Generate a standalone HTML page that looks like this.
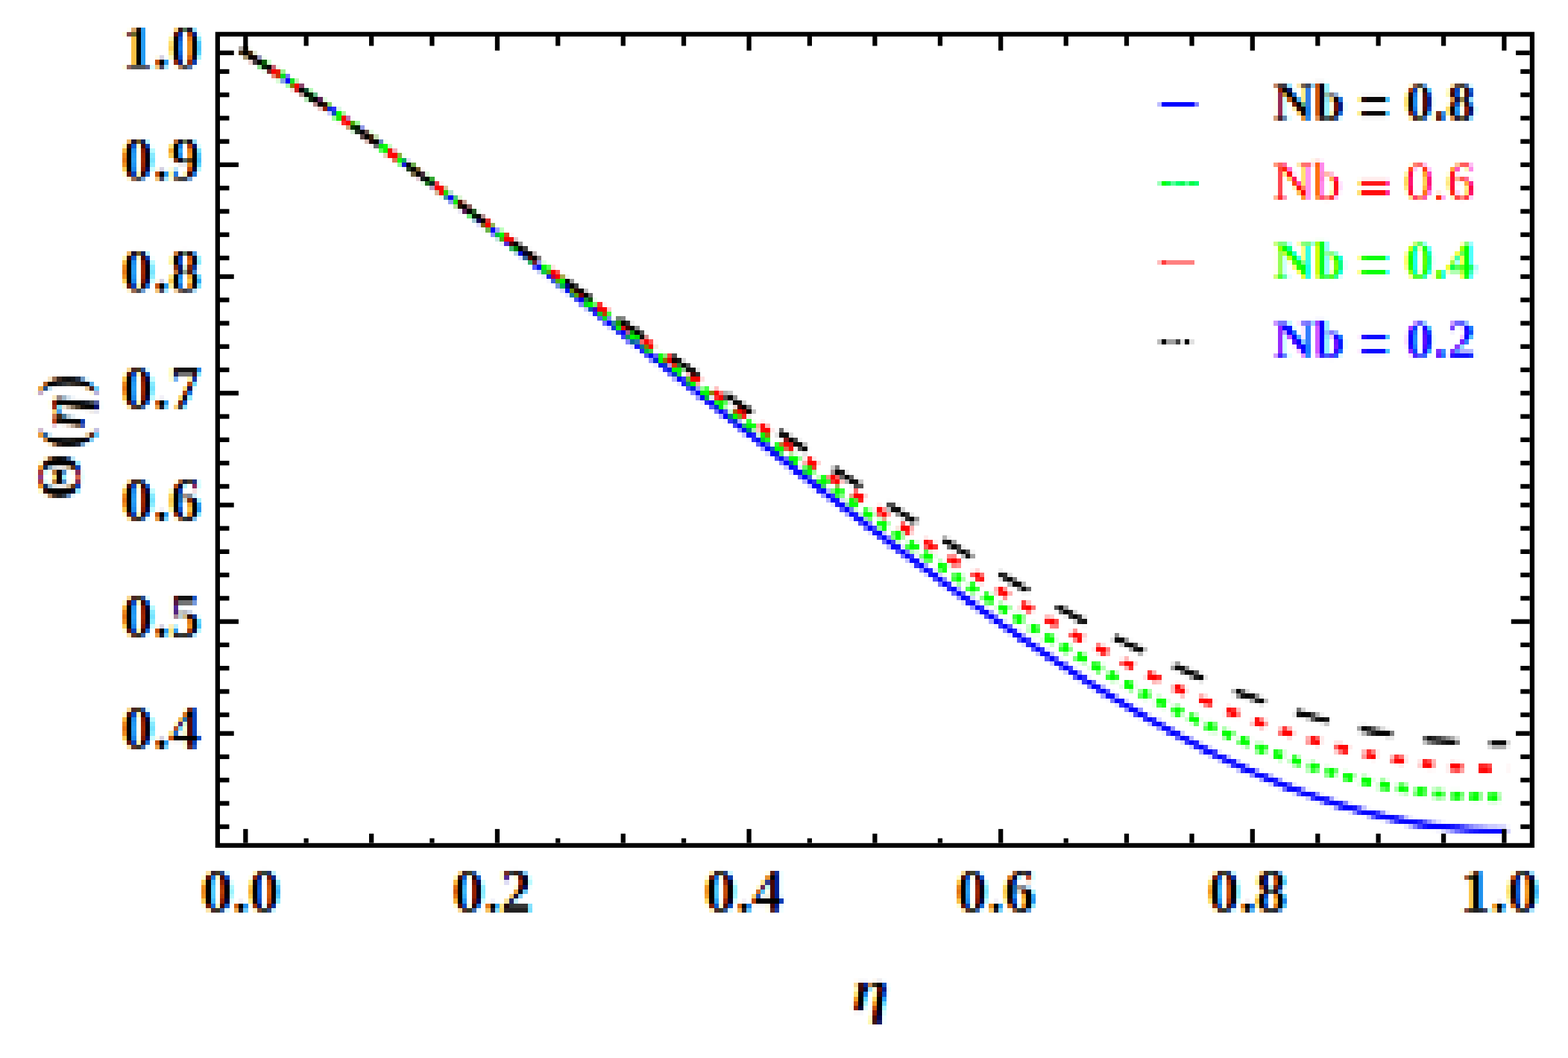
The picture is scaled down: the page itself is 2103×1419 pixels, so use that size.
<!DOCTYPE html>
<html lang="en"><head><meta charset="utf-8"><title>Temperature profile for Nb</title>
<style>html,body{margin:0;padding:0;background:#fff;width:2103px;height:1419px}svg{display:block}text{font-family:"Liberation Serif","DejaVu Serif",serif;font-weight:bold}</style></head><body>
<svg width="2103" height="1419" viewBox="0 0 2103 1419">
<defs>
<filter id="ct" filterUnits="userSpaceOnUse" x="-50" y="-50" width="2203" height="1519" color-interpolation-filters="sRGB">
<feFlood flood-color="#fff" result="w"/>
<feMerge result="s"><feMergeNode in="w"/><feMergeNode in="SourceGraphic"/></feMerge>
<feOffset in="s" dx="2.08" dy="0" result="sr"/>
<feOffset in="s" dx="-2.08" dy="0" result="sb"/>
<feColorMatrix in="sr" type="matrix" values="1 0 0 0 0  0 0 0 0 0  0 0 0 0 0  0 0 0 0 1" result="r"/>
<feColorMatrix in="s" type="matrix" values="0 0 0 0 0  0 1 0 0 0  0 0 0 0 0  0 0 0 0 1" result="g"/>
<feColorMatrix in="sb" type="matrix" values="0 0 0 0 0  0 0 0 0 0  0 0 1 0 0  0 0 0 0 1" result="b"/>
<feComposite in="r" in2="g" operator="arithmetic" k1="0" k2="1" k3="1" k4="0" result="rg"/>
<feComposite in="rg" in2="b" operator="arithmetic" k1="0" k2="1" k3="1" k4="0" result="rgb"/>
<feMerge><feMergeNode in="w"/><feMergeNode in="rgb"/></feMerge>
</filter>
<filter id="px" filterUnits="userSpaceOnUse" x="-50" y="-50" width="2203" height="1519" color-interpolation-filters="sRGB">
<feFlood flood-color="#fff" result="w"/>
<feMerge result="s"><feMergeNode in="w"/><feMergeNode in="SourceGraphic"/></feMerge>
<feGaussianBlur in="s" stdDeviation="1.8" result="bl"/>
<feFlood flood-color="#000" x="17" y="21" width="1" height="1" result="d00"/>
<feFlood flood-color="#000" x="23" y="21" width="1" height="1" result="d10"/>
<feFlood flood-color="#000" x="29" y="21" width="1" height="1" result="d20"/>
<feFlood flood-color="#000" x="36" y="21" width="1" height="1" result="d30"/>
<feFlood flood-color="#000" x="17" y="27" width="1" height="1" result="d01"/>
<feFlood flood-color="#000" x="23" y="27" width="1" height="1" result="d11"/>
<feFlood flood-color="#000" x="29" y="27" width="1" height="1" result="d21"/>
<feFlood flood-color="#000" x="36" y="27" width="1" height="1" result="d31"/>
<feFlood flood-color="#000" x="17" y="33" width="1" height="1" result="d02"/>
<feFlood flood-color="#000" x="23" y="33" width="1" height="1" result="d12"/>
<feFlood flood-color="#000" x="29" y="33" width="1" height="1" result="d22"/>
<feFlood flood-color="#000" x="36" y="33" width="1" height="1" result="d32"/>
<feFlood flood-color="#000" x="17" y="40" width="1" height="1" result="d03"/>
<feFlood flood-color="#000" x="23" y="40" width="1" height="1" result="d13"/>
<feFlood flood-color="#000" x="29" y="40" width="1" height="1" result="d23"/>
<feFlood flood-color="#000" x="36" y="40" width="1" height="1" result="d33"/>
<feMerge x="14" y="18" width="25" height="25" result="cell"><feMergeNode in="d00"/><feMergeNode in="d10"/><feMergeNode in="d20"/><feMergeNode in="d30"/><feMergeNode in="d01"/><feMergeNode in="d11"/><feMergeNode in="d21"/><feMergeNode in="d31"/><feMergeNode in="d02"/><feMergeNode in="d12"/><feMergeNode in="d22"/><feMergeNode in="d32"/><feMergeNode in="d03"/><feMergeNode in="d13"/><feMergeNode in="d23"/><feMergeNode in="d33"/></feMerge>
<feTile in="cell" result="grid"/>
<feComposite in="bl" in2="grid" operator="in" result="smp"/>
<feMorphology in="smp" operator="dilate" radius="3" result="dil"/>
<feFlood flood-color="rgb(176,0,0)" x="14" y="18" width="1" height="25" result="c0"/>
<feFlood flood-color="rgb(160,0,0)" x="15" y="18" width="1" height="25" result="c1"/>
<feFlood flood-color="rgb(144,0,0)" x="16" y="18" width="1" height="25" result="c2"/>
<feFlood flood-color="rgb(128,0,0)" x="17" y="18" width="1" height="25" result="c3"/>
<feFlood flood-color="rgb(112,0,0)" x="18" y="18" width="1" height="25" result="c4"/>
<feFlood flood-color="rgb(96,0,0)" x="19" y="18" width="1" height="25" result="c5"/>
<feFlood flood-color="rgb(176,0,0)" x="20" y="18" width="1" height="25" result="c6"/>
<feFlood flood-color="rgb(160,0,0)" x="21" y="18" width="1" height="25" result="c7"/>
<feFlood flood-color="rgb(144,0,0)" x="22" y="18" width="1" height="25" result="c8"/>
<feFlood flood-color="rgb(128,0,0)" x="23" y="18" width="1" height="25" result="c9"/>
<feFlood flood-color="rgb(112,0,0)" x="24" y="18" width="1" height="25" result="c10"/>
<feFlood flood-color="rgb(96,0,0)" x="25" y="18" width="1" height="25" result="c11"/>
<feFlood flood-color="rgb(176,0,0)" x="26" y="18" width="1" height="25" result="c12"/>
<feFlood flood-color="rgb(160,0,0)" x="27" y="18" width="1" height="25" result="c13"/>
<feFlood flood-color="rgb(144,0,0)" x="28" y="18" width="1" height="25" result="c14"/>
<feFlood flood-color="rgb(128,0,0)" x="29" y="18" width="1" height="25" result="c15"/>
<feFlood flood-color="rgb(112,0,0)" x="30" y="18" width="1" height="25" result="c16"/>
<feFlood flood-color="rgb(96,0,0)" x="31" y="18" width="1" height="25" result="c17"/>
<feFlood flood-color="rgb(80,0,0)" x="32" y="18" width="1" height="25" result="c18"/>
<feFlood flood-color="rgb(176,0,0)" x="33" y="18" width="1" height="25" result="c19"/>
<feFlood flood-color="rgb(160,0,0)" x="34" y="18" width="1" height="25" result="c20"/>
<feFlood flood-color="rgb(144,0,0)" x="35" y="18" width="1" height="25" result="c21"/>
<feFlood flood-color="rgb(128,0,0)" x="36" y="18" width="1" height="25" result="c22"/>
<feFlood flood-color="rgb(112,0,0)" x="37" y="18" width="1" height="25" result="c23"/>
<feFlood flood-color="rgb(96,0,0)" x="38" y="18" width="1" height="25" result="c24"/>
<feMerge x="14" y="18" width="25" height="25" result="cm"><feMergeNode in="c0"/><feMergeNode in="c1"/><feMergeNode in="c2"/><feMergeNode in="c3"/><feMergeNode in="c4"/><feMergeNode in="c5"/><feMergeNode in="c6"/><feMergeNode in="c7"/><feMergeNode in="c8"/><feMergeNode in="c9"/><feMergeNode in="c10"/><feMergeNode in="c11"/><feMergeNode in="c12"/><feMergeNode in="c13"/><feMergeNode in="c14"/><feMergeNode in="c15"/><feMergeNode in="c16"/><feMergeNode in="c17"/><feMergeNode in="c18"/><feMergeNode in="c19"/><feMergeNode in="c20"/><feMergeNode in="c21"/><feMergeNode in="c22"/><feMergeNode in="c23"/><feMergeNode in="c24"/></feMerge>
<feFlood flood-color="rgb(0,176,0)" x="14" y="18" width="25" height="1" result="r0"/>
<feFlood flood-color="rgb(0,160,0)" x="14" y="19" width="25" height="1" result="r1"/>
<feFlood flood-color="rgb(0,144,0)" x="14" y="20" width="25" height="1" result="r2"/>
<feFlood flood-color="rgb(0,128,0)" x="14" y="21" width="25" height="1" result="r3"/>
<feFlood flood-color="rgb(0,112,0)" x="14" y="22" width="25" height="1" result="r4"/>
<feFlood flood-color="rgb(0,96,0)" x="14" y="23" width="25" height="1" result="r5"/>
<feFlood flood-color="rgb(0,176,0)" x="14" y="24" width="25" height="1" result="r6"/>
<feFlood flood-color="rgb(0,160,0)" x="14" y="25" width="25" height="1" result="r7"/>
<feFlood flood-color="rgb(0,144,0)" x="14" y="26" width="25" height="1" result="r8"/>
<feFlood flood-color="rgb(0,128,0)" x="14" y="27" width="25" height="1" result="r9"/>
<feFlood flood-color="rgb(0,112,0)" x="14" y="28" width="25" height="1" result="r10"/>
<feFlood flood-color="rgb(0,96,0)" x="14" y="29" width="25" height="1" result="r11"/>
<feFlood flood-color="rgb(0,176,0)" x="14" y="30" width="25" height="1" result="r12"/>
<feFlood flood-color="rgb(0,160,0)" x="14" y="31" width="25" height="1" result="r13"/>
<feFlood flood-color="rgb(0,144,0)" x="14" y="32" width="25" height="1" result="r14"/>
<feFlood flood-color="rgb(0,128,0)" x="14" y="33" width="25" height="1" result="r15"/>
<feFlood flood-color="rgb(0,112,0)" x="14" y="34" width="25" height="1" result="r16"/>
<feFlood flood-color="rgb(0,96,0)" x="14" y="35" width="25" height="1" result="r17"/>
<feFlood flood-color="rgb(0,80,0)" x="14" y="36" width="25" height="1" result="r18"/>
<feFlood flood-color="rgb(0,176,0)" x="14" y="37" width="25" height="1" result="r19"/>
<feFlood flood-color="rgb(0,160,0)" x="14" y="38" width="25" height="1" result="r20"/>
<feFlood flood-color="rgb(0,144,0)" x="14" y="39" width="25" height="1" result="r21"/>
<feFlood flood-color="rgb(0,128,0)" x="14" y="40" width="25" height="1" result="r22"/>
<feFlood flood-color="rgb(0,112,0)" x="14" y="41" width="25" height="1" result="r23"/>
<feFlood flood-color="rgb(0,96,0)" x="14" y="42" width="25" height="1" result="r24"/>
<feMerge x="14" y="18" width="25" height="25" result="rm"><feMergeNode in="r0"/><feMergeNode in="r1"/><feMergeNode in="r2"/><feMergeNode in="r3"/><feMergeNode in="r4"/><feMergeNode in="r5"/><feMergeNode in="r6"/><feMergeNode in="r7"/><feMergeNode in="r8"/><feMergeNode in="r9"/><feMergeNode in="r10"/><feMergeNode in="r11"/><feMergeNode in="r12"/><feMergeNode in="r13"/><feMergeNode in="r14"/><feMergeNode in="r15"/><feMergeNode in="r16"/><feMergeNode in="r17"/><feMergeNode in="r18"/><feMergeNode in="r19"/><feMergeNode in="r20"/><feMergeNode in="r21"/><feMergeNode in="r22"/><feMergeNode in="r23"/><feMergeNode in="r24"/></feMerge>
<feComposite in="cm" in2="rm" operator="arithmetic" k1="0" k2="1" k3="1" k4="0" x="14" y="18" width="25" height="25" result="m1"/>
<feTile in="m1" result="map"/>
<feDisplacementMap in="dil" in2="map" scale="15.9375" xChannelSelector="R" yChannelSelector="G" result="dsp"/>
<feMerge><feMergeNode in="w"/><feMergeNode in="dsp"/></feMerge>
</filter>
</defs>
<rect width="2103" height="1419" fill="#fff"/>
<g filter="url(#px)">
<g filter="url(#ct)">
<text transform="translate(163.68 91.2) scale(1 0.975)" font-size="85" fill="#000" stroke="#fff" stroke-width="0.4">1.0</text>
<text transform="translate(163.68 241.24) scale(1 0.975)" font-size="85" fill="#000" stroke="#fff" stroke-width="0.4">0.9</text>
<text transform="translate(163.68 391.29) scale(1 0.975)" font-size="85" fill="#000" stroke="#fff" stroke-width="0.4">0.8</text>
<text transform="translate(163.68 547.59) scale(1 0.975)" font-size="85" fill="#000" stroke="#fff" stroke-width="0.4">0.7</text>
<text transform="translate(163.68 697.64) scale(1 0.975)" font-size="85" fill="#000" stroke="#fff" stroke-width="0.4">0.6</text>
<text transform="translate(163.68 853.94) scale(1 0.975)" font-size="85" fill="#000" stroke="#fff" stroke-width="0.4">0.5</text>
<text transform="translate(163.68 1003.99) scale(1 0.975)" font-size="85" fill="#000" stroke="#fff" stroke-width="0.4">0.4</text>
<text transform="translate(269.96 1222.81) scale(1 0.975)" font-size="85" fill="#000" stroke="#fff" stroke-width="0.4">0.0</text>
<text transform="translate(607.57 1222.81) scale(1 0.975)" font-size="85" fill="#000" stroke="#fff" stroke-width="0.4">0.2</text>
<text transform="translate(945.18 1222.81) scale(1 0.975)" font-size="85" fill="#000" stroke="#fff" stroke-width="0.4">0.4</text>
<text transform="translate(1282.79 1222.81) scale(1 0.975)" font-size="85" fill="#000" stroke="#fff" stroke-width="0.4">0.6</text>
<text transform="translate(1620.4 1222.81) scale(1 0.975)" font-size="85" fill="#000" stroke="#fff" stroke-width="0.4">0.8</text>
<text transform="translate(1958 1222.81) scale(1 0.975)" font-size="85" fill="#000" stroke="#fff" stroke-width="0.4">1.0</text>
<text transform="translate(1708 161.3) scale(1 0.96)" font-size="75" fill="#000" xml:space="preserve" stroke="#fff" stroke-width="0.4">Nb <tspan x="114" dy="14.3" font-size="100.5" textLength="43" lengthAdjust="spacingAndGlyphs">=</tspan> <tspan x="177" dy="-14.3">0.8</tspan></text>
<text transform="translate(1708 267.58) scale(1 0.96)" font-size="75" fill="#ff0000" xml:space="preserve" style="font-weight:normal">Nb <tspan x="115" dy="5.9" font-size="67" textLength="42.3" lengthAdjust="spacingAndGlyphs" stroke="#ff0000" stroke-width="2.6">=</tspan> <tspan x="177" dy="-5.9">0.6</tspan></text>
<text transform="translate(1708 373.87) scale(1 0.96)" font-size="75" fill="#00ff00" xml:space="preserve" stroke="#fff" stroke-width="0.4">Nb <tspan x="114" dy="14.3" font-size="100.5" textLength="43" lengthAdjust="spacingAndGlyphs">=</tspan> <tspan x="177" dy="-14.3">0.4</tspan></text>
<text transform="translate(1708 480.15) scale(1 0.96)" font-size="75" fill="#0000ff" xml:space="preserve" stroke="#fff" stroke-width="0.4">Nb <tspan x="114" dy="14.3" font-size="100.5" textLength="43" lengthAdjust="spacingAndGlyphs">=</tspan> <tspan x="177" dy="-14.3">0.2</tspan></text>
<text transform="translate(1144 1355.6) scale(1.08 1)" font-size="82" fill="#000" font-style="italic" stroke="#fff" stroke-width="0.4">η</text>
<text transform="translate(106.5 671.5) rotate(-90) scale(0.975 1)" font-size="83" fill="#000" stroke="#fff" stroke-width="0.4">Θ</text>
<text transform="translate(112.8 603) rotate(-90) scale(1 1.081)" font-size="83" fill="#000" stroke="#fff" stroke-width="0.4">(<tspan font-style="italic">η</tspan>)</text>
</g>
<g fill="none" stroke-linejoin="round">
<path d="M324.24 67.92 L332.73 73.1 L341.21 78.34 L349.7 83.66 L358.19 89.05 L366.68 94.51 L375.17 100.03 L383.66 105.61 L392.15 111.24 L400.64 116.94 L409.13 122.69 L417.62 128.49 L426.11 134.34 L434.6 140.23 L443.09 146.18 L451.58 152.16 L460.07 158.19 L468.56 164.26 L477.05 170.37 L485.54 176.52 L494.02 182.69 L502.51 188.91 L511 195.15 L519.49 201.43 L527.98 207.74 L536.47 214.07 L544.96 220.43 L553.45 226.82 L561.94 233.23 L570.43 239.66 L578.92 246.11 L587.41 252.59 L595.9 259.08 L604.39 265.6 L612.88 272.13 L621.37 278.68 L629.86 285.24 L638.35 291.82 L646.83 298.42 L655.32 305.03 L663.81 311.65 L672.3 318.28 L680.79 324.92 L689.28 331.58 L697.77 338.24 L706.26 344.92 L714.75 351.6 L723.24 358.29 L731.73 364.99 L740.22 371.69 L748.71 378.4 L757.2 385.12 L765.69 391.84 L774.18 398.57 L782.67 405.3 L791.16 412.04 L799.65 418.78 L808.13 425.52 L816.62 432.26 L825.11 439.01 L833.6 445.76 L842.09 452.51 L850.58 459.26 L859.07 466.01 L867.56 472.76 L876.05 479.51 L884.54 486.26 L893.03 493.01 L901.52 499.75 L910.01 506.5 L918.5 513.24 L926.99 519.98 L935.48 526.72 L943.97 533.45 L952.46 540.18 L960.94 546.91 L969.43 553.63 L977.92 560.34 L986.41 567.05 L994.9 573.76 L1003.39 580.45 L1011.88 587.15 L1020.37 593.83 L1028.86 600.51 L1037.35 607.17 L1045.84 613.83 L1054.33 620.48 L1062.82 627.12 L1071.31 633.75 L1079.8 640.37 L1088.29 646.98 L1096.78 653.58 L1105.27 660.16 L1113.76 666.73 L1122.24 673.29 L1130.73 679.84 L1139.22 686.37 L1147.71 692.88 L1156.2 699.38 L1164.69 705.87 L1173.18 712.33 L1181.67 718.78 L1190.16 725.21 L1198.65 731.62 L1207.14 738.01 L1215.63 744.38 L1224.12 750.73 L1232.61 757.06 L1241.1 763.37 L1249.59 769.65 L1258.08 775.91 L1266.57 782.14 L1275.05 788.35 L1283.54 794.53 L1292.03 800.68 L1300.52 806.81 L1309.01 812.9 L1317.5 818.97 L1325.99 825 L1334.48 831.01 L1342.97 836.98 L1351.46 842.91 L1359.95 848.82 L1368.44 854.68 L1376.93 860.51 L1385.42 866.3 L1393.91 872.06 L1402.4 877.77 L1410.89 883.44 L1419.38 889.07 L1427.86 894.66 L1436.35 900.21 L1444.84 905.71 L1453.33 911.16 L1461.82 916.57 L1470.31 921.92 L1478.8 927.23 L1487.29 932.49 L1495.78 937.7 L1504.27 942.86 L1512.76 947.96 L1521.25 953 L1529.74 957.99 L1538.23 962.93 L1546.72 967.8 L1555.21 972.62 L1563.7 977.37 L1572.19 982.06 L1580.68 986.69 L1589.16 991.26 L1597.65 995.76 L1606.14 1000.19 L1614.63 1004.56 L1623.12 1008.85 L1631.61 1013.08 L1640.1 1017.24 L1648.59 1021.32 L1657.08 1025.33 L1665.57 1029.27 L1674.06 1033.13 L1682.55 1036.91 L1691.04 1040.61 L1699.53 1044.24 L1708.02 1047.78 L1716.51 1051.25 L1725 1054.63 L1733.49 1057.93 L1741.97 1061.14 L1750.46 1064.27 L1758.95 1067.31 L1767.44 1070.27 L1775.93 1073.13 L1784.42 1075.91 L1792.91 1078.6 L1801.4 1081.19 L1809.89 1083.69 L1818.38 1086.1 L1826.87 1088.42 L1835.36 1090.64 L1843.85 1092.76 L1852.34 1094.79 L1860.83 1096.72 L1869.32 1098.55 L1877.81 1100.29 L1886.3 1101.92 L1894.78 1103.46 L1903.27 1104.89 L1911.76 1106.23 L1920.25 1107.46 L1928.74 1108.59 L1937.23 1109.62 L1945.72 1110.55 L1954.21 1111.37 L1962.7 1112.09 L1971.19 1112.71 L1979.68 1113.22 L1988.17 1113.63 L1996.66 1113.93 L2005.15 1114.14 L2013.64 1114.23 L2022.13 1114.23" stroke="#0000ff" stroke-width="8.6"/>
<path d="M329.3 71 L337.74 76.39 L346.18 81.82 L354.62 87.31 L363.06 92.83 L371.5 98.41 L379.94 104.03 L388.38 109.68 L396.82 115.38 L405.26 121.12 L413.71 126.89 L422.15 132.7 L430.59 138.54 L439.03 144.42 L447.47 150.33 L455.91 156.26 L464.35 162.23 L472.79 168.23 L481.23 174.25 L489.67 180.3 L498.11 186.37 L506.55 192.47 L514.99 198.59 L523.43 204.73 L531.87 210.9 L540.31 217.08 L548.75 223.28 L557.19 229.51 L565.63 235.75 L574.07 242 L582.51 248.28 L590.96 254.57 L599.4 260.87 L607.84 267.19 L616.28 273.52 L624.72 279.86 L633.16 286.22 L641.6 292.59 L650.04 298.97 L658.48 305.36 L666.92 311.75 L675.36 318.16 L683.8 324.58 L692.24 331.01 L700.68 337.44 L709.12 343.88 L717.56 350.33 L726 356.78 L734.44 363.24 L742.88 369.71 L751.33 376.18 L759.77 382.65 L768.21 389.13 L776.65 395.61 L785.09 402.1 L793.53 408.58 L801.97 415.07 L810.41 421.57 L818.85 428.06 L827.29 434.55 L835.73 441.05 L844.17 447.55 L852.61 454.04 L861.05 460.54 L869.49 467.03 L877.93 473.52 L886.37 480.01 L894.81 486.5 L903.25 492.99 L911.69 499.47 L920.13 505.95 L928.58 512.42 L937.02 518.89 L945.46 525.36 L953.9 531.82 L962.34 538.28 L970.78 544.72 L979.22 551.17 L987.66 557.6 L996.1 564.03 L1004.54 570.45 L1012.98 576.86 L1021.42 583.26 L1029.86 589.66 L1038.3 596.04 L1046.74 602.41 L1055.18 608.77 L1063.62 615.12 L1072.06 621.46 L1080.5 627.78 L1088.94 634.1 L1097.39 640.39 L1105.83 646.68 L1114.27 652.95 L1122.71 659.2 L1131.15 665.44 L1139.59 671.66 L1148.03 677.86 L1156.47 684.04 L1164.91 690.21 L1173.35 696.36 L1181.79 702.48 L1190.23 708.59 L1198.67 714.67 L1207.11 720.73 L1215.55 726.77 L1223.99 732.79 L1232.43 738.78 L1240.87 744.75 L1249.31 750.69 L1257.76 756.6 L1266.2 762.49 L1274.64 768.35 L1283.08 774.18 L1291.52 779.98 L1299.96 785.75 L1308.4 791.49 L1316.84 797.19 L1325.28 802.86 L1333.72 808.5 L1342.16 814.11 L1350.6 819.68 L1359.04 825.21 L1367.48 830.71 L1375.92 836.16 L1384.36 841.58 L1392.8 846.96 L1401.24 852.3 L1409.68 857.59 L1418.12 862.84 L1426.56 868.05 L1435.01 873.22 L1443.45 878.34 L1451.89 883.41 L1460.33 888.43 L1468.77 893.41 L1477.21 898.34 L1485.65 903.21 L1494.09 908.04 L1502.53 912.81 L1510.97 917.53 L1519.41 922.2 L1527.85 926.81 L1536.29 931.36 L1544.73 935.86 L1553.17 940.3 L1561.61 944.68 L1570.05 949 L1578.49 953.26 L1586.93 957.45 L1595.37 961.59 L1603.82 965.66 L1612.26 969.66 L1620.7 973.6 L1629.14 977.47 L1637.58 981.28 L1646.02 985.02 L1654.46 988.68 L1662.9 992.28 L1671.34 995.8 L1679.78 999.26 L1688.22 1002.64 L1696.66 1005.94 L1705.1 1009.18 L1713.54 1012.33 L1721.98 1015.41 L1730.42 1018.41 L1738.86 1021.34 L1747.3 1024.18 L1755.74 1026.95 L1764.18 1029.63 L1772.63 1032.23 L1781.07 1034.75 L1789.51 1037.19 L1797.95 1039.55 L1806.39 1041.82 L1814.83 1044.01 L1823.27 1046.11 L1831.71 1048.13 L1840.15 1050.06 L1848.59 1051.9 L1857.03 1053.66 L1865.47 1055.32 L1873.91 1056.9 L1882.35 1058.4 L1890.79 1059.8 L1899.23 1061.11 L1907.67 1062.33 L1916.11 1063.47 L1924.55 1064.51 L1932.99 1065.46 L1941.44 1066.32 L1949.88 1067.09 L1958.32 1067.77 L1966.76 1068.36 L1975.2 1068.86 L1983.64 1069.27 L1992.08 1069.58 L2000.52 1069.81 L2008.96 1069.95 L2017.4 1069.99" stroke="#00ff00" stroke-width="11.5" stroke-dasharray="14 10.64" stroke-dashoffset="2.4"/>
<path d="M323.39 67.26 L326.77 69.39 L330.14 71.54" stroke="#00ff00" stroke-width="11.5"/>
<path d="M329.3 71 L337.76 76.57 L346.23 82.17 L354.69 87.8 L363.16 93.46 L371.62 99.16 L380.08 104.88 L388.55 110.63 L397.01 116.41 L405.48 122.22 L413.94 128.05 L422.41 133.91 L430.87 139.78 L439.33 145.69 L447.8 151.61 L456.26 157.55 L464.73 163.52 L473.19 169.5 L481.65 175.51 L490.12 181.53 L498.58 187.56 L507.05 193.62 L515.51 199.69 L523.98 205.77 L532.44 211.87 L540.9 217.99 L549.37 224.12 L557.83 230.26 L566.3 236.41 L574.76 242.57 L583.22 248.75 L591.69 254.93 L600.15 261.13 L608.62 267.33 L617.08 273.55 L625.54 279.77 L634.01 286 L642.47 292.24 L650.94 298.49 L659.4 304.74 L667.87 311 L676.33 317.26 L684.79 323.53 L693.26 329.81 L701.72 336.09 L710.19 342.37 L718.65 348.66 L727.11 354.95 L735.58 361.24 L744.04 367.54 L752.51 373.84 L760.97 380.14 L769.43 386.44 L777.9 392.75 L786.36 399.05 L794.83 405.35 L803.29 411.66 L811.76 417.96 L820.22 424.27 L828.68 430.57 L837.15 436.87 L845.61 443.17 L854.08 449.46 L862.54 455.75 L871 462.04 L879.47 468.33 L887.93 474.61 L896.4 480.89 L904.86 487.16 L913.33 493.43 L921.79 499.7 L930.25 505.95 L938.72 512.2 L947.18 518.44 L955.65 524.68 L964.11 530.91 L972.57 537.13 L981.04 543.34 L989.5 549.54 L997.97 555.73 L1006.43 561.91 L1014.89 568.09 L1023.36 574.25 L1031.82 580.4 L1040.29 586.53 L1048.75 592.66 L1057.22 598.77 L1065.68 604.87 L1074.14 610.95 L1082.61 617.02 L1091.07 623.07 L1099.54 629.11 L1108 635.13 L1116.46 641.13 L1124.93 647.12 L1133.39 653.09 L1141.86 659.04 L1150.32 664.97 L1158.79 670.88 L1167.25 676.77 L1175.71 682.63 L1184.18 688.48 L1192.64 694.3 L1201.11 700.1 L1209.57 705.88 L1218.03 711.63 L1226.5 717.36 L1234.96 723.06 L1243.43 728.73 L1251.89 734.38 L1260.35 740 L1268.82 745.59 L1277.28 751.15 L1285.75 756.68 L1294.21 762.18 L1302.68 767.64 L1311.14 773.08 L1319.6 778.48 L1328.07 783.85 L1336.53 789.18 L1345 794.47 L1353.46 799.73 L1361.92 804.96 L1370.39 810.14 L1378.85 815.29 L1387.32 820.39 L1395.78 825.46 L1404.24 830.48 L1412.71 835.46 L1421.17 840.4 L1429.64 845.29 L1438.1 850.14 L1446.57 854.95 L1455.03 859.71 L1463.49 864.42 L1471.96 869.08 L1480.42 873.69 L1488.89 878.26 L1497.35 882.77 L1505.81 887.23 L1514.28 891.64 L1522.74 895.99 L1531.21 900.3 L1539.67 904.54 L1548.14 908.73 L1556.6 912.87 L1565.06 916.94 L1573.53 920.96 L1581.99 924.92 L1590.46 928.82 L1598.92 932.66 L1607.38 936.43 L1615.85 940.15 L1624.31 943.8 L1632.78 947.38 L1641.24 950.9 L1649.7 954.36 L1658.17 957.75 L1666.63 961.07 L1675.1 964.32 L1683.56 967.51 L1692.03 970.62 L1700.49 973.67 L1708.95 976.64 L1717.42 979.54 L1725.88 982.37 L1734.35 985.13 L1742.81 987.81 L1751.27 990.42 L1759.74 992.95 L1768.2 995.4 L1776.67 997.78 L1785.13 1000.09 L1793.6 1002.31 L1802.06 1004.46 L1810.52 1006.52 L1818.99 1008.51 L1827.45 1010.42 L1835.92 1012.25 L1844.38 1014 L1852.84 1015.66 L1861.31 1017.25 L1869.77 1018.75 L1878.24 1020.17 L1886.7 1021.51 L1895.16 1022.76 L1903.63 1023.94 L1912.09 1025.02 L1920.56 1026.03 L1929.02 1026.95 L1937.49 1027.79 L1945.95 1028.54 L1954.41 1029.21 L1962.88 1029.79 L1971.34 1030.29 L1979.81 1030.71 L1988.27 1031.04 L1996.73 1031.28 L2005.2 1031.45 L2013.66 1031.53 L2022.13 1031.52" stroke="#ff0000" stroke-width="10" stroke-dasharray="17 21.72" stroke-dashoffset="0.2"/>
<path d="M323.39 67.14 L326.77 69.34 L330.14 71.55" stroke="#ff0000" stroke-width="10"/>
<path d="M329.3 71 L337.76 76.53 L346.23 82.09 L354.69 87.71 L363.16 93.36 L371.62 99.05 L380.08 104.77 L388.55 110.53 L397.01 116.33 L405.48 122.15 L413.94 128 L422.41 133.88 L430.87 139.78 L439.33 145.71 L447.8 151.66 L456.26 157.63 L464.73 163.62 L473.19 169.63 L481.65 175.66 L490.12 181.7 L498.58 187.76 L507.05 193.83 L515.51 199.91 L523.98 206.01 L532.44 212.11 L540.9 218.23 L549.37 224.35 L557.83 230.48 L566.3 236.62 L574.76 242.76 L583.22 248.91 L591.69 255.06 L600.15 261.22 L608.62 267.38 L617.08 273.54 L625.54 279.7 L634.01 285.87 L642.47 292.04 L650.94 298.2 L659.4 304.37 L667.87 310.53 L676.33 316.7 L684.79 322.86 L693.26 329.02 L701.72 335.17 L710.19 341.33 L718.65 347.48 L727.11 353.62 L735.58 359.76 L744.04 365.9 L752.51 372.03 L760.97 378.16 L769.43 384.28 L777.9 390.4 L786.36 396.51 L794.83 402.61 L803.29 408.71 L811.76 414.8 L820.22 420.88 L828.68 426.96 L837.15 433.02 L845.61 439.08 L854.08 445.14 L862.54 451.18 L871 457.21 L879.47 463.24 L887.93 469.26 L896.4 475.27 L904.86 481.27 L913.33 487.25 L921.79 493.23 L930.25 499.2 L938.72 505.16 L947.18 511.11 L955.65 517.05 L964.11 522.97 L972.57 528.89 L981.04 534.79 L989.5 540.68 L997.97 546.56 L1006.43 552.42 L1014.89 558.28 L1023.36 564.12 L1031.82 569.94 L1040.29 575.76 L1048.75 581.56 L1057.22 587.34 L1065.68 593.11 L1074.14 598.87 L1082.61 604.61 L1091.07 610.33 L1099.54 616.04 L1108 621.73 L1116.46 627.4 L1124.93 633.06 L1133.39 638.7 L1141.86 644.32 L1150.32 649.92 L1158.79 655.5 L1167.25 661.07 L1175.71 666.61 L1184.18 672.13 L1192.64 677.63 L1201.11 683.11 L1209.57 688.57 L1218.03 694 L1226.5 699.41 L1234.96 704.8 L1243.43 710.16 L1251.89 715.5 L1260.35 720.81 L1268.82 726.1 L1277.28 731.36 L1285.75 736.59 L1294.21 741.79 L1302.68 746.96 L1311.14 752.11 L1319.6 757.22 L1328.07 762.3 L1336.53 767.36 L1345 772.37 L1353.46 777.36 L1361.92 782.31 L1370.39 787.23 L1378.85 792.11 L1387.32 796.95 L1395.78 801.76 L1404.24 806.53 L1412.71 811.26 L1421.17 815.95 L1429.64 820.6 L1438.1 825.21 L1446.57 829.78 L1455.03 834.3 L1463.49 838.79 L1471.96 843.22 L1480.42 847.61 L1488.89 851.96 L1497.35 856.26 L1505.81 860.51 L1514.28 864.71 L1522.74 868.86 L1531.21 872.96 L1539.67 877.01 L1548.14 881 L1556.6 884.95 L1565.06 888.84 L1573.53 892.67 L1581.99 896.45 L1590.46 900.17 L1598.92 903.83 L1607.38 907.44 L1615.85 910.98 L1624.31 914.47 L1632.78 917.89 L1641.24 921.26 L1649.7 924.56 L1658.17 927.79 L1666.63 930.96 L1675.1 934.07 L1683.56 937.11 L1692.03 940.08 L1700.49 942.99 L1708.95 945.82 L1717.42 948.59 L1725.88 951.29 L1734.35 953.92 L1742.81 956.47 L1751.27 958.96 L1759.74 961.37 L1768.2 963.71 L1776.67 965.97 L1785.13 968.16 L1793.6 970.28 L1802.06 972.31 L1810.52 974.28 L1818.99 976.16 L1827.45 977.97 L1835.92 979.71 L1844.38 981.36 L1852.84 982.94 L1861.31 984.43 L1869.77 985.85 L1878.24 987.19 L1886.7 988.45 L1895.16 989.63 L1903.63 990.74 L1912.09 991.76 L1920.56 992.7 L1929.02 993.56 L1937.49 994.34 L1945.95 995.04 L1954.41 995.67 L1962.88 996.21 L1971.34 996.67 L1979.81 997.06 L1988.27 997.36 L1996.73 997.59 L2005.2 997.74 L2013.66 997.81 L2022.13 997.81" stroke="#000000" stroke-width="8" stroke-dasharray="44 43.98" stroke-dashoffset="1.5"/>
<path d="M323.39 67.17 L326.77 69.36 L330.14 71.55" stroke="#000000" stroke-width="8"/>
</g>
</g>
<g shape-rendering="crispEdges">
<rect x="1551.62" y="136.56" width="6.25" height="6.25" fill="#bfbfff"/>
<rect x="1557.88" y="136.56" width="43.76" height="6.25" fill="#0000ff"/>
<rect x="1601.64" y="136.56" width="6.25" height="6.25" fill="#8080ff"/>
<rect x="1551.62" y="242.84" width="6.25" height="6.25" fill="#a0ffbe"/>
<rect x="1557.88" y="242.84" width="6.25" height="6.25" fill="#00ff00"/>
<rect x="1564.13" y="242.84" width="6.25" height="6.25" fill="#00fa46"/>
<rect x="1570.38" y="242.84" width="6.25" height="6.25" fill="#50ff96"/>
<rect x="1576.63" y="242.84" width="6.25" height="6.25" fill="#00ff6e"/>
<rect x="1582.88" y="242.84" width="6.25" height="6.25" fill="#00fa50"/>
<rect x="1589.14" y="242.84" width="6.25" height="6.25" fill="#50ff96"/>
<rect x="1595.39" y="242.84" width="6.25" height="6.25" fill="#00fa46"/>
<rect x="1601.64" y="242.84" width="6.25" height="6.25" fill="#00ff6e"/>
<rect x="1551.62" y="349.13" width="6.25" height="6.25" fill="#ffbebe"/>
<rect x="1557.88" y="349.13" width="6.25" height="6.25" fill="#ff3c3c"/>
<rect x="1564.13" y="349.13" width="37.51" height="6.25" fill="#ff8080"/>
<rect x="1551.62" y="455.41" width="6.25" height="6.25" fill="#bebebe"/>
<rect x="1557.88" y="455.41" width="6.25" height="6.25" fill="#000000"/>
<rect x="1564.13" y="455.41" width="12.5" height="6.25" fill="#a0a0a0"/>
<rect x="1576.63" y="455.41" width="6.25" height="6.25" fill="#404040"/>
<rect x="1582.88" y="455.41" width="6.25" height="6.25" fill="#e1e1e1"/>
<rect x="1589.14" y="455.41" width="6.25" height="6.25" fill="#000000"/>
<rect x="1595.39" y="455.41" width="6.25" height="6.25" fill="#e1e1e1"/>
</g>
<g fill="#000">
<path fill-rule="evenodd" d="M288.72 42.78H2058.04V1136.88H288.72ZM294.97 49.03H2051.78V1130.63H294.97Z"/>
<rect x="326.23" y="49.03" width="6.25" height="18.76"/>
<rect x="326.23" y="1111.87" width="6.25" height="18.76"/>
<rect x="407.51" y="49.03" width="6.25" height="12.5"/>
<rect x="407.51" y="1124.38" width="6.25" height="6.25"/>
<rect x="495.04" y="49.03" width="6.25" height="12.5"/>
<rect x="495.04" y="1118.12" width="6.25" height="12.5"/>
<rect x="576.31" y="49.03" width="6.25" height="12.5"/>
<rect x="576.31" y="1124.38" width="6.25" height="6.25"/>
<rect x="663.84" y="49.03" width="6.25" height="18.76"/>
<rect x="663.84" y="1111.87" width="6.25" height="18.76"/>
<rect x="745.12" y="49.03" width="6.25" height="12.5"/>
<rect x="745.12" y="1124.38" width="6.25" height="6.25"/>
<rect x="832.64" y="49.03" width="6.25" height="12.5"/>
<rect x="832.64" y="1118.12" width="6.25" height="12.5"/>
<rect x="913.92" y="49.03" width="6.25" height="12.5"/>
<rect x="913.92" y="1124.38" width="6.25" height="6.25"/>
<rect x="1001.45" y="49.03" width="6.25" height="18.76"/>
<rect x="1001.45" y="1111.87" width="6.25" height="18.76"/>
<rect x="1082.72" y="49.03" width="6.25" height="12.5"/>
<rect x="1082.72" y="1124.38" width="6.25" height="6.25"/>
<rect x="1170.25" y="49.03" width="6.25" height="12.5"/>
<rect x="1170.25" y="1118.12" width="6.25" height="12.5"/>
<rect x="1257.78" y="49.03" width="6.25" height="12.5"/>
<rect x="1257.78" y="1124.38" width="6.25" height="6.25"/>
<rect x="1339.06" y="49.03" width="6.25" height="18.76"/>
<rect x="1339.06" y="1111.87" width="6.25" height="18.76"/>
<rect x="1426.58" y="49.03" width="6.25" height="12.5"/>
<rect x="1426.58" y="1124.38" width="6.25" height="6.25"/>
<rect x="1507.86" y="49.03" width="6.25" height="12.5"/>
<rect x="1507.86" y="1118.12" width="6.25" height="12.5"/>
<rect x="1595.39" y="49.03" width="6.25" height="12.5"/>
<rect x="1595.39" y="1118.12" width="6.25" height="12.5"/>
<rect x="1676.66" y="49.03" width="6.25" height="18.76"/>
<rect x="1676.66" y="1111.87" width="6.25" height="18.76"/>
<rect x="1764.19" y="49.03" width="6.25" height="12.5"/>
<rect x="1764.19" y="1118.12" width="6.25" height="12.5"/>
<rect x="1845.47" y="49.03" width="6.25" height="12.5"/>
<rect x="1845.47" y="1118.12" width="6.25" height="12.5"/>
<rect x="1933" y="49.03" width="6.25" height="12.5"/>
<rect x="1933" y="1118.12" width="6.25" height="12.5"/>
<rect x="2014.27" y="49.03" width="6.25" height="18.76"/>
<rect x="2014.27" y="1111.87" width="6.25" height="18.76"/>
<rect x="294.97" y="92.8" width="12.5" height="6.25"/>
<rect x="2039.28" y="92.8" width="12.5" height="6.25"/>
<rect x="294.97" y="124.06" width="12.5" height="6.25"/>
<rect x="2039.28" y="124.06" width="12.5" height="6.25"/>
<rect x="294.97" y="155.32" width="12.5" height="6.25"/>
<rect x="2039.28" y="155.32" width="12.5" height="6.25"/>
<rect x="294.97" y="186.58" width="12.5" height="6.25"/>
<rect x="2039.28" y="186.58" width="12.5" height="6.25"/>
<rect x="294.97" y="249.1" width="12.5" height="6.25"/>
<rect x="2039.28" y="249.1" width="12.5" height="6.25"/>
<rect x="294.97" y="280.36" width="12.5" height="6.25"/>
<rect x="2039.28" y="280.36" width="12.5" height="6.25"/>
<rect x="294.97" y="311.62" width="12.5" height="6.25"/>
<rect x="2039.28" y="311.62" width="12.5" height="6.25"/>
<rect x="294.97" y="342.88" width="12.5" height="6.25"/>
<rect x="2039.28" y="342.88" width="12.5" height="6.25"/>
<rect x="294.97" y="399.14" width="12.5" height="6.25"/>
<rect x="2039.28" y="399.14" width="12.5" height="6.25"/>
<rect x="294.97" y="430.4" width="12.5" height="6.25"/>
<rect x="2039.28" y="430.4" width="12.5" height="6.25"/>
<rect x="294.97" y="461.66" width="12.5" height="6.25"/>
<rect x="2039.28" y="461.66" width="12.5" height="6.25"/>
<rect x="294.97" y="492.92" width="12.5" height="6.25"/>
<rect x="2039.28" y="492.92" width="12.5" height="6.25"/>
<rect x="294.97" y="555.44" width="12.5" height="6.25"/>
<rect x="2039.28" y="555.44" width="12.5" height="6.25"/>
<rect x="294.97" y="586.7" width="12.5" height="6.25"/>
<rect x="2039.28" y="586.7" width="12.5" height="6.25"/>
<rect x="294.97" y="617.96" width="12.5" height="6.25"/>
<rect x="2039.28" y="617.96" width="12.5" height="6.25"/>
<rect x="294.97" y="649.22" width="12.5" height="6.25"/>
<rect x="2039.28" y="649.22" width="12.5" height="6.25"/>
<rect x="294.97" y="705.49" width="12.5" height="6.25"/>
<rect x="2039.28" y="705.49" width="12.5" height="6.25"/>
<rect x="294.97" y="736.75" width="12.5" height="6.25"/>
<rect x="2039.28" y="736.75" width="12.5" height="6.25"/>
<rect x="294.97" y="768.01" width="12.5" height="6.25"/>
<rect x="2039.28" y="768.01" width="12.5" height="6.25"/>
<rect x="294.97" y="799.27" width="12.5" height="6.25"/>
<rect x="2039.28" y="799.27" width="12.5" height="6.25"/>
<rect x="294.97" y="861.79" width="12.5" height="6.25"/>
<rect x="2039.28" y="861.79" width="12.5" height="6.25"/>
<rect x="294.97" y="893.05" width="12.5" height="6.25"/>
<rect x="2039.28" y="893.05" width="12.5" height="6.25"/>
<rect x="294.97" y="924.31" width="12.5" height="6.25"/>
<rect x="2039.28" y="924.31" width="12.5" height="6.25"/>
<rect x="294.97" y="955.57" width="12.5" height="6.25"/>
<rect x="2039.28" y="955.57" width="12.5" height="6.25"/>
<rect x="294.97" y="1011.84" width="12.5" height="6.25"/>
<rect x="2039.28" y="1011.84" width="12.5" height="6.25"/>
<rect x="294.97" y="1043.1" width="12.5" height="6.25"/>
<rect x="2039.28" y="1043.1" width="12.5" height="6.25"/>
<rect x="294.97" y="1074.36" width="12.5" height="6.25"/>
<rect x="2039.28" y="1074.36" width="12.5" height="6.25"/>
<rect x="294.97" y="1105.62" width="12.5" height="6.25"/>
<rect x="2039.28" y="1105.62" width="12.5" height="6.25"/>
<rect x="294.97" y="67.79" width="18.76" height="6.25"/>
<rect x="294.97" y="217.84" width="25.01" height="6.25"/>
<rect x="294.97" y="367.88" width="18.76" height="6.25"/>
<rect x="294.97" y="524.18" width="25.01" height="6.25"/>
<rect x="294.97" y="674.23" width="18.76" height="6.25"/>
<rect x="294.97" y="830.53" width="25.01" height="6.25"/>
<rect x="294.97" y="980.58" width="18.76" height="6.25"/>
<rect x="2033.03" y="67.79" width="18.76" height="6.25"/>
<rect x="2039.28" y="217.84" width="12.5" height="6.25"/>
<rect x="2039.28" y="367.88" width="12.5" height="6.25"/>
<rect x="2039.28" y="524.18" width="12.5" height="6.25"/>
<rect x="2039.28" y="674.23" width="12.5" height="6.25"/>
<rect x="2026.78" y="830.53" width="25.01" height="6.25"/>
<rect x="2033.03" y="980.58" width="18.76" height="6.25"/>
</g>
</svg></body></html>
